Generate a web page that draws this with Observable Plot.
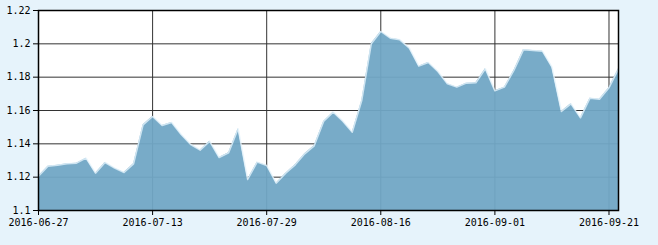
<!DOCTYPE html>
<html>
<head>
<meta charset="utf-8">
<script src="https://cdn.jsdelivr.net/npm/d3@7"></script>
<script src="https://cdn.jsdelivr.net/npm/@observablehq/plot@0.6"></script>
<style>
  html, body { margin: 0; padding: 0; background: #e6f3fb; }
  #chart svg { display: block; }
</style>
</head>
<body>
<div id="chart"></div>
<script>
const dates = [
  "2016-06-27","2016-06-28","2016-06-29","2016-06-30","2016-07-01","2016-07-04","2016-07-05","2016-07-06","2016-07-07","2016-07-08",
  "2016-07-11","2016-07-12","2016-07-13","2016-07-14","2016-07-15","2016-07-18","2016-07-19","2016-07-20","2016-07-21","2016-07-22",
  "2016-07-25","2016-07-26","2016-07-27","2016-07-28","2016-07-29","2016-08-01","2016-08-02","2016-08-03","2016-08-04","2016-08-05",
  "2016-08-08","2016-08-09","2016-08-10","2016-08-11","2016-08-12","2016-08-15","2016-08-16","2016-08-17","2016-08-18","2016-08-19",
  "2016-08-22","2016-08-23","2016-08-24","2016-08-25","2016-08-26","2016-08-29","2016-08-30","2016-08-31","2016-09-01","2016-09-02",
  "2016-09-05","2016-09-06","2016-09-07","2016-09-08","2016-09-09","2016-09-12","2016-09-13","2016-09-14","2016-09-19","2016-09-20",
  "2016-09-21","2016-09-22"
];
const values = [
  1.1206,1.1266,1.1272,1.128,1.1284,1.1314,1.1224,1.1288,1.1254,1.1228,
  1.128,1.1514,1.1564,1.151,1.1528,1.1456,1.1396,1.1362,1.1415,1.1318,
  1.1346,1.149,1.1186,1.129,1.127,1.1164,1.1224,1.1274,1.134,1.1388,
  1.1536,1.159,1.1536,1.147,1.166,1.2,1.2074,1.2034,1.2024,1.1974,
  1.1866,1.1888,1.1834,1.176,1.174,1.1764,1.1766,1.185,1.1718,1.174,
  1.184,1.1964,1.196,1.1956,1.186,1.1594,1.164,1.1556,1.1674,1.1668,
  1.1736,1.185
];
const xTicks = ["2016-06-27","2016-07-13","2016-07-29","2016-08-16","2016-09-01","2016-09-21"];
const yTicks = [1.1, 1.12, 1.14, 1.16, 1.18, 1.2, 1.22];

const data = dates.map((d, i) => ({date: d, value: values[i]}));
const font = "DejaVu Sans Mono, monospace";

const chart = Plot.plot({
  width: 658,
  height: 245,
  marginLeft: 38,
  marginRight: 40,
  marginTop: 10,
  marginBottom: 35,
  style: {background: "transparent", fontFamily: font, fontSize: "10px", color: "#000"},
  x: {type: "point", domain: dates, padding: 0, label: null},
  y: {domain: [1.1, 1.22], label: null},
  marks: [
    Plot.frame({fill: "white", stroke: null}),
    Plot.ruleY(yTicks, {stroke: "#333", strokeWidth: 1}),
    Plot.ruleX(xTicks, {stroke: "#333", strokeWidth: 1}),
    Plot.areaY(data, {x: "date", y1: () => 1.1, y2: "value", fill: "rgb(113,166,197)", fillOpacity: 0.95}),
    Plot.lineY(data, {x: "date", y: "value", stroke: "#e4f2fb", strokeWidth: 1.5, strokeOpacity: 0.8}),
    Plot.frame({stroke: "black", strokeWidth: 1.5}),
    Plot.axisX({ticks: xTicks, tickSize: 5, tickPadding: 3, label: null, stroke: "black", fontFamily: font, fontSize: 10, fill: "black"}),
    Plot.axisY({ticks: yTicks, tickSize: 5, tickPadding: 3, label: null, tickFormat: d => String(+d.toFixed(2)), stroke: "black", fontFamily: font, fontSize: 10, fill: "black"})
  ]
});
document.getElementById("chart").appendChild(chart);
</script>
</body>
</html>
